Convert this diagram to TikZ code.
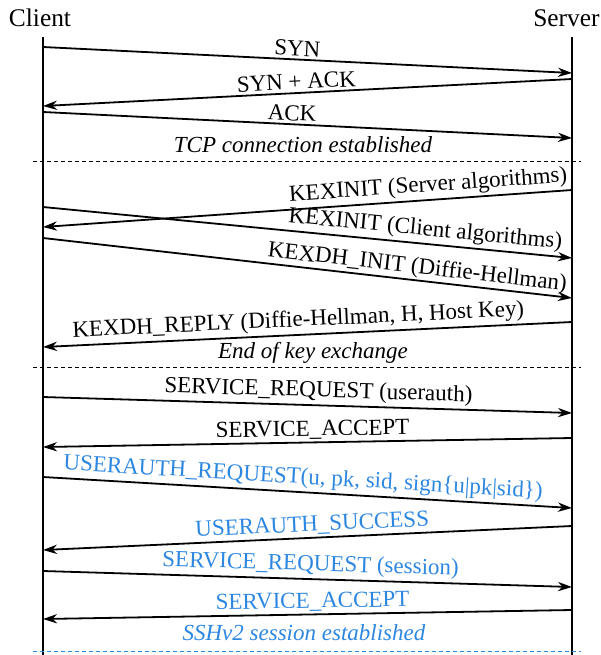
\documentclass[tikz,border=0pt]{standalone}
\usepackage{fontspec}
\setmainfont{Liberation Serif}
\usetikzlibrary{arrows.meta}
\definecolor{sshblue}{RGB}{45,135,225}
\newcommand*{\lbl}[1]{\fontsize{11.5}{13}\selectfont #1}
\newcommand*{\side}[1]{\fontsize{12.7}{14}\selectfont #1}

\begin{document}
\begin{tikzpicture}[x=0.5pt,y=-0.5pt,
  msg/.style={line width=0.9pt,-{Stealth[length=7pt,width=4.6pt,inset=2.2pt]}},
  txt/.style={above,sloped,inner sep=1.3pt,font=\lbl},
  sep/.style={line width=0.45pt,dash pattern=on 2pt off 1.5pt}]
\useasboundingbox (0,0) rectangle (601,655);

\node[font=\side] (client) at (40,18) {Client};
\node[font=\side,anchor=east,inner sep=0pt] (server) at (600,18) {Server};
\draw[line width=1pt] (43,37) -- (43,655);
\draw[line width=1pt] (572,37) -- (572,655);

\coordinate (c1) at (43,47);   \coordinate (s1) at (572,73);
\coordinate (s2) at (572,79);  \coordinate (c2) at (43,106);
\coordinate (c3) at (43,112);  \coordinate (s3) at (572,138);
\coordinate (s4) at (572,190); \coordinate (c4) at (43,227);
\coordinate (c5) at (43,207);  \coordinate (s5) at (572,258);
\coordinate (c6) at (43,238);  \coordinate (s6) at (572,298);
\coordinate (s7) at (572,322); \coordinate (c7) at (43,347);
\coordinate (c8) at (43,397);  \coordinate (s8) at (572,413);
\coordinate (s9) at (572,438); \coordinate (c9) at (43,447);
\coordinate (c10) at (43,477); \coordinate (s10) at (572,508);
\coordinate (s11) at (572,526); \coordinate (c11) at (43,550);
\coordinate (c12) at (43,571); \coordinate (s12) at (572,587);
\coordinate (s13) at (572,610); \coordinate (c13) at (43,619);

% TCP handshake
\draw[msg] (c1) -- node[txt,pos=.48] (syn) {SYN} (s1);
\draw[msg] (s2) -- node[txt,pos=.52] (synack) {SYN + ACK} (c2);
\draw[msg] (c3) -- node[txt,pos=.47] (ack) {ACK} (s3);
\node[font=\lbl\itshape] (tcp) at (303,145) {TCP connection established};
\draw[sep] (33,161) -- (581,161);

% key exchange
\draw[msg] (s4) -- node[txt,pos=.27] (kexs) {KEXINIT (Server algorithms)} (c4);
\draw[msg] (c5) -- node[txt,pos=.72] (kexc) {KEXINIT (Client algorithms)} (s5);
\draw[msg] (c6) -- node[txt,pos=.705,inner sep=0.5pt] (dhinit) {KEXDH\_INIT (Diffie-Hellman)} (s6);
\draw[msg] (s7) -- node[txt,pos=.516] (dhreply) {KEXDH\_REPLY (Diffie-Hellman, H, Host Key)} (c7);
\node[font=\lbl\itshape] (kexend) at (313,353) {End of key exchange};
\draw[sep] (33,367) -- (581,367);

% authentication
\draw[msg] (c8) -- node[txt,pos=.52] (sreq) {SERVICE\_REQUEST (userauth)} (s8);
\draw[msg] (s9) -- node[txt,pos=.49] (sacc) {SERVICE\_ACCEPT} (c9);
\draw[msg] (c10) -- node[txt,pos=.49,text=sshblue] (uareq) {USERAUTH\_REQUEST(u, pk, sid, sign\{u|pk|sid\})} (s10);
\draw[msg] (s11) -- node[txt,pos=.49,text=sshblue] (uaok) {USERAUTH\_SUCCESS} (c11);
\draw[msg] (c12) -- node[txt,pos=.505,text=sshblue] (sreq2) {SERVICE\_REQUEST (session)} (s12);
\draw[msg] (s13) -- node[txt,pos=.49,text=sshblue] (sacc2) {SERVICE\_ACCEPT} (c13);
\node[font=\lbl\itshape,text=sshblue] (sshok) at (304,633) {SSHv2 session established};
\draw[sep,sshblue] (33,651) -- (581,651);
\end{tikzpicture}
\end{document}
